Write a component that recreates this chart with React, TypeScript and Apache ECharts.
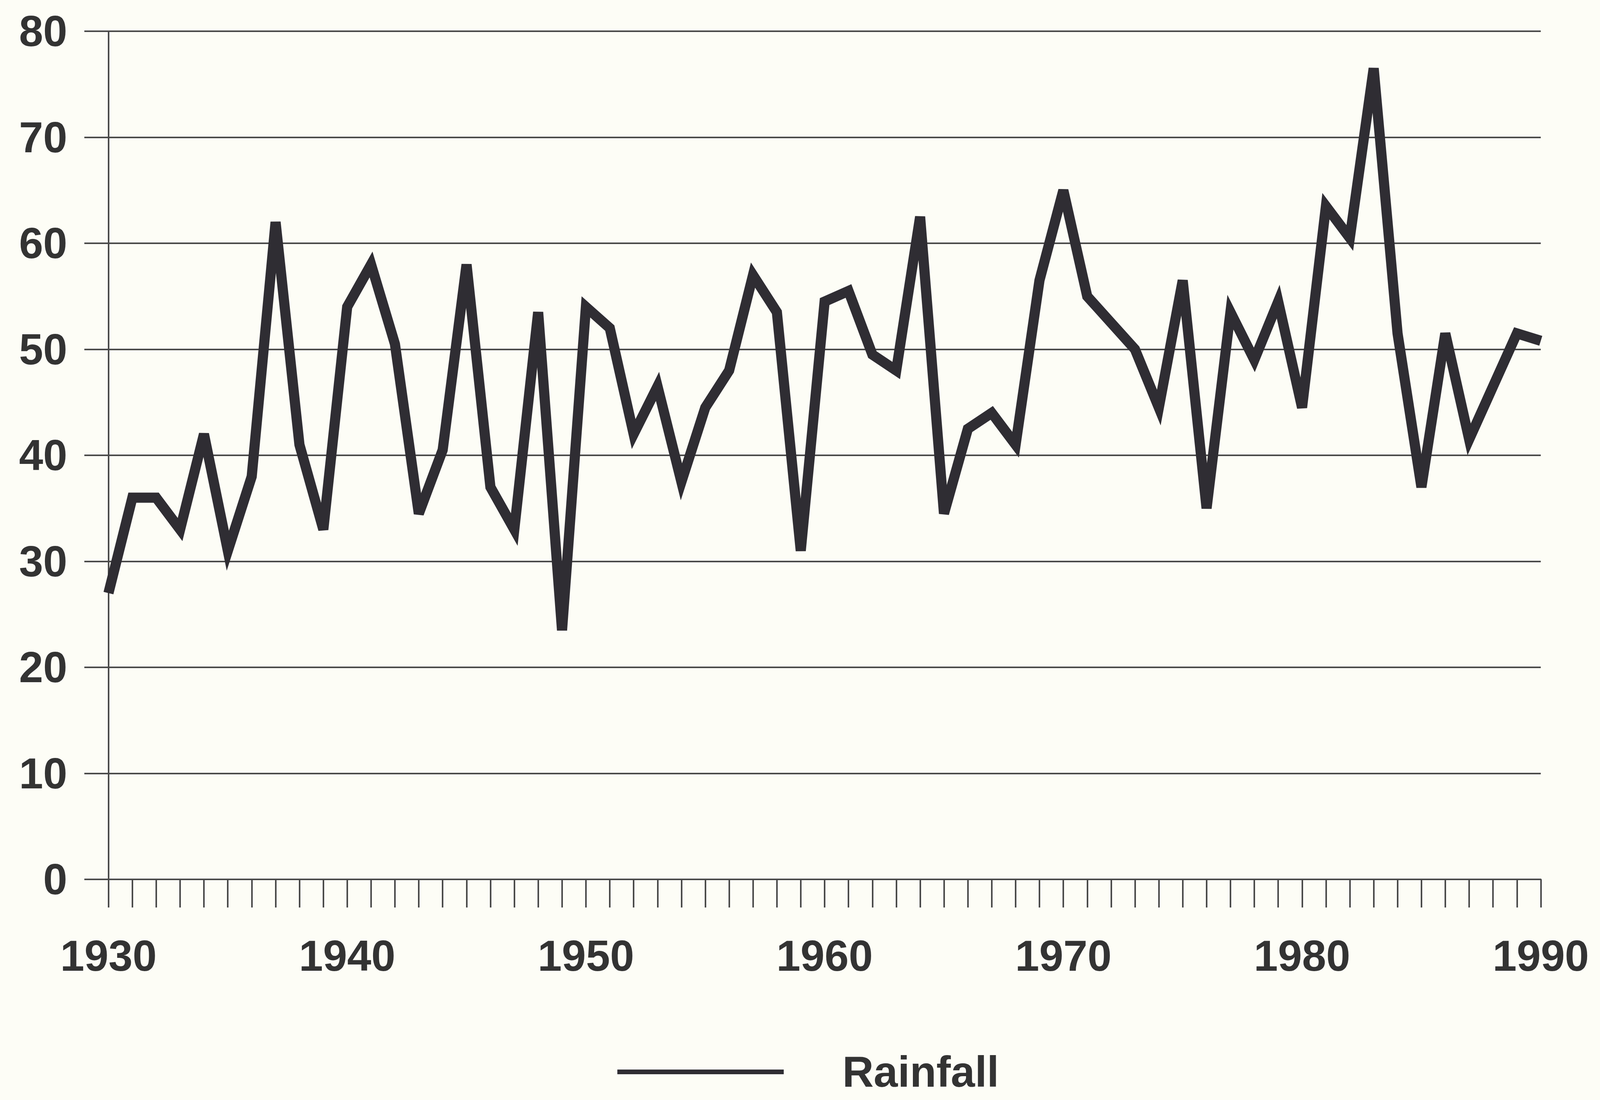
import React, { useEffect, useRef } from "react";
import * as echarts from "echarts";

const years: number[] = [
  1930, 1931, 1932, 1933, 1934, 1935, 1936, 1937, 1938, 1939,
  1940, 1941, 1942, 1943, 1944, 1945, 1946, 1947, 1948, 1949,
  1950, 1951, 1952, 1953, 1954, 1955, 1956, 1957, 1958, 1959,
  1960, 1961, 1962, 1963, 1964, 1965, 1966, 1967, 1968, 1969,
  1970, 1971, 1972, 1973, 1974, 1975, 1976, 1977, 1978, 1979,
  1980, 1981, 1982, 1983, 1984, 1985, 1986, 1987, 1988, 1989,
  1990,
];

const rainfall: number[] = [
  27, 36, 36, 33, 42, 31, 38, 62, 41, 33,
  54, 58, 50.5, 34.5, 40.5, 58, 37, 33, 53.5, 23.5,
  54, 52, 42, 46.5, 37.5, 44.5, 48, 57, 53.5, 31,
  54.5, 55.5, 49.5, 48, 62.5, 34.5, 42.5, 44, 41, 56.5,
  65, 55, 52.5, 50, 44.5, 56.5, 35, 53.5, 49, 54.5,
  44.5, 63.5, 60.5, 76.5, 51.5, 37, 51.5, 41.5, 46.5, 51.5,
  50.8,
];

const seriesName = "Rainfall";
const yTicks = { min: 0, max: 80, interval: 10 };
const xTicks = { min: 1930, max: 1990, interval: 10 };

// reference design size
const REF_W = 4971;
const REF_H = 2817;

export default function App() {
  const ref = useRef<HTMLDivElement>(null);

  useEffect(() => {
    if (!ref.current) return;
    const W = ref.current.clientWidth || window.innerWidth;
    const H = ref.current.clientHeight || window.innerHeight;
    const sx = W / REF_W;
    const sy = H / REF_H;
    const chart = echarts.init(ref.current, undefined, { renderer: "svg" });
    const ink = "#2f2d33";
    const gridInk = "#4a4a4a";
    const textInk = "#333333";
    const font = "Liberation Sans";
    const fs = Math.round(112 * Math.min(1, (sx + sy) / 2 + 0.08));
    const legendFs = fs;
    const legendCenterY = 2756 * sy;
    const legendItemH = legendFs * 1.2;
    chart.setOption({
      animation: false,
      backgroundColor: "#fdfdf6",
      grid: {
        left: 337 * sx,
        right: 184 * sx,
        top: 80 * sy,
        bottom: 565 * sy,
        containLabel: false,
      },
      legend: {
        show: true,
        left: 1918 * sx,
        top: legendCenterY - legendItemH / 2,
        icon: "rect",
        itemWidth: 517 * sx,
        itemHeight: 12,
        itemGap: 0,
        padding: 0,
        textStyle: {
          fontFamily: font,
          fontWeight: "bold",
          fontSize: legendFs,
          color: textInk,
          padding: [0, 0, 0, 176 * sx],
        },
        data: [seriesName],
      },
      xAxis: {
        type: "value",
        min: xTicks.min,
        max: xTicks.max,
        interval: xTicks.interval,
        axisLine: { show: true, onZero: false, lineStyle: { color: gridInk, width: 4 } },
        axisTick: { show: true, length: 72 * sy, lineStyle: { color: gridInk, width: 4 } },
        minorTick: {
          show: true,
          splitNumber: 10,
          length: 72 * sy,
          lineStyle: { color: gridInk, width: 4 },
        },
        splitLine: { show: false },
        axisLabel: {
          margin: 140 * sy,
          fontFamily: font,
          fontWeight: "bold",
          fontSize: fs,
          color: textInk,
          formatter: (v: number) => String(v),
        },
      },
      yAxis: {
        type: "value",
        min: yTicks.min,
        max: yTicks.max,
        interval: yTicks.interval,
        axisLine: { show: true, lineStyle: { color: gridInk, width: 4 } },
        axisTick: { show: true, length: 75 * sx, lineStyle: { color: gridInk, width: 4 } },
        splitLine: { show: true, lineStyle: { color: gridInk, width: 4 } },
        axisLabel: {
          margin: 128 * sx,
          fontFamily: font,
          fontWeight: "bold",
          fontSize: fs,
          color: textInk,
        },
      },
      series: [
        {
          name: seriesName,
          type: "line",
          data: years.map((y, i) => [y, rainfall[i]]),
          showSymbol: false,
          symbol: "none",
          color: ink,
          lineStyle: { color: ink, width: 26, join: "miter", miterLimit: 4 },
        },
      ],
    });
    return () => chart.dispose();
  }, []);

  return (
    <div
      ref={ref}
      style={{ position: "fixed", left: 0, top: 0, width: "100vw", height: "100vh" }}
    />
  );
}
